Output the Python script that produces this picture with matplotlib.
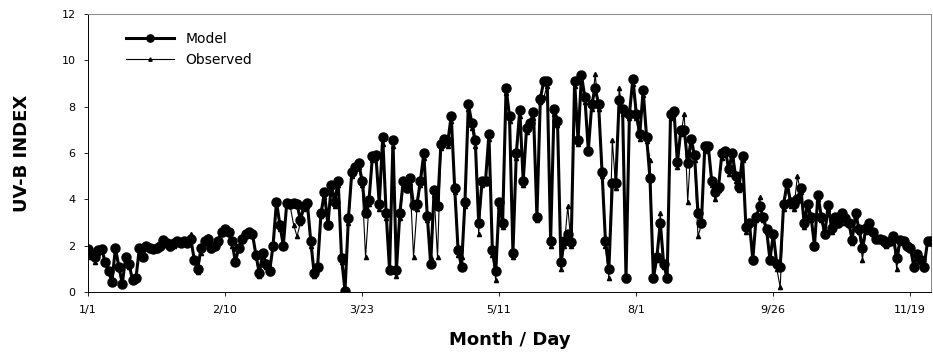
import numpy as np
import matplotlib.pyplot as plt

# model UV-B index left to right
model = [1.85, 1.7, 1.5, 1.8, 1.85, 1.3, 0.9, 0.45, 1.9, 1.1, 0.35, 1.5, 1.2, 0.5, 0.6, 1.9, 1.5, 2.0, 1.9, 1.85,
         1.9, 2.0, 2.25, 2.1, 2.0, 2.1, 2.2, 2.1, 2.2, 2.1, 2.3, 1.4, 1.0, 1.9, 2.2, 2.3, 1.9, 2.0, 2.2, 2.6,
         2.7, 2.6, 2.2, 1.3, 1.9, 2.3, 2.5, 2.6, 2.5, 1.6, 0.8, 1.7, 1.2, 0.9, 2.0, 3.9, 2.9, 2.0, 3.85, 3.8,
         3.85, 3.8, 3.1, 3.7, 3.85, 2.2, 0.8, 1.1, 3.4, 4.3, 2.9, 4.6, 3.9, 4.8, 1.45, 0.05, 3.2, 5.2, 5.4, 5.55,
         4.8, 3.4, 3.96, 5.85,
         5.9, 3.8, 6.7, 3.4, 0.95, 6.55, 0.95, 3.4, 4.8, 4.5, 4.9, 3.75, 3.8, 4.8, 6.0, 3.3, 1.2, 4.4, 3.7, 6.4,
         6.6, 6.5, 7.6, 4.5, 1.8, 1.1, 3.9, 8.1, 7.3, 6.55, 3.0, 4.8, 4.8, 6.8, 1.8, 0.9, 3.9, 3.0, 8.8,
         7.6, 1.7, 6.0, 7.85, 4.8, 7.1, 7.3, 7.75, 3.25, 8.35, 9.1, 9.1, 2.2, 7.9, 7.4, 1.3, 2.2, 2.5, 2.15, 9.1,
         6.55, 9.35, 8.4, 6.1, 8.1, 8.8, 8.1, 5.2, 2.2, 1.0, 4.7, 4.7, 8.3, 7.9, 0.6, 7.7, 9.2, 7.7, 6.8, 8.7,
         6.7, 4.9, 0.6, 1.5, 3.0, 1.2, 0.6, 7.7, 7.8, 5.6, 7.0, 7.0, 5.55, 6.6, 5.9, 3.4, 3.0, 6.3, 6.3, 4.8,
         4.3, 4.55, 6.0, 6.1, 5.3, 6.0, 5.0, 4.55, 5.85, 2.8, 3.0, 1.4, 3.25, 3.7, 3.25, 2.7, 1.4, 2.5, 1.2, 1.1,
         3.8, 4.7,
         3.9, 3.8, 4.0, 4.5, 2.96, 3.8, 3.25, 2.0, 4.2, 3.25, 2.5, 3.75, 2.75, 3.25, 3.0, 3.4, 3.2, 3.0, 2.25, 3.4,
         2.7, 1.9, 2.75, 3.0, 2.6, 2.3, 2.3, 2.25, 2.1, 2.2, 2.4, 1.45, 2.25, 2.2, 2.0, 1.9, 1.1, 1.65, 1.4, 1.1,
         2.2, 2.2]

# observed UV-B index
observed = [1.7, 1.5, 1.3, 1.7, 1.8, 1.2, 1.0, 0.6, 1.8, 1.0, 0.4, 1.4, 1.1, 0.6, 0.7, 1.8, 1.6, 1.9, 1.8, 1.9,
            1.8, 1.9, 2.1, 2.2, 1.9, 2.0, 2.1, 2.2, 2.1, 2.2, 2.5, 1.3, 0.85, 1.7, 2.1, 2.4, 1.8, 2.1, 2.1, 2.5,
            2.6, 2.5, 2.0, 1.4, 1.8, 2.2, 2.4, 2.5, 2.4, 1.5, 0.7, 1.6, 1.1, 0.8, 1.9, 3.8, 2.7, 2.1, 3.8, 3.7,
            2.9, 2.4, 3.0, 3.6, 3.7, 2.0, 0.7, 1.0, 3.3, 4.1, 2.8, 4.5, 3.7, 4.6, 1.3, 0.0, 3.0, 5.0, 5.3, 5.4,
            4.6, 1.5, 3.8, 5.7,
            5.8, 3.6, 6.4, 3.2, 0.9, 6.3, 0.7, 3.2, 4.6, 4.4, 4.7, 1.5, 3.6, 4.6, 5.8, 3.1, 1.5, 4.2, 1.5, 6.2,
            6.5, 6.3, 7.4, 4.3, 1.6, 1.5, 3.7, 7.9, 7.1, 6.3, 2.5, 4.6, 4.7, 6.6, 1.6, 0.5, 3.7, 2.8, 8.6,
            7.4, 1.5, 5.8, 7.6, 4.6, 6.9, 7.2, 7.5, 3.1, 8.2, 8.4, 8.9, 2.0, 7.7, 7.2, 1.0, 2.0, 3.7, 2.0, 8.9,
            6.4, 9.1, 8.2, 6.0, 7.9, 9.4, 7.9, 5.0, 2.0, 0.6, 6.55, 4.5, 8.8, 7.7, 0.5, 7.5, 9.0, 7.5, 6.6, 8.5,
            6.5, 5.7, 0.5, 1.4, 3.4, 1.1, 0.5, 7.5, 7.7, 5.4, 6.8, 7.7, 3.9, 6.4, 5.7, 2.4, 2.9, 6.1, 6.2, 4.6,
            4.0, 4.4, 5.8, 6.0, 5.1, 5.8, 4.8, 4.4, 5.7, 2.6, 2.9, 1.3, 3.1, 4.1, 3.1, 2.6, 1.3, 2.4, 1.0, 0.2,
            3.6, 4.5,
            3.7, 3.6, 5.0, 4.3, 2.8, 3.6, 3.1, 1.9, 4.0, 3.1, 2.4, 3.6, 2.6, 3.1, 2.9, 3.3, 3.0, 2.9, 2.1, 3.3,
            2.6, 1.4, 2.6, 2.9, 2.5, 2.2, 2.2, 2.1, 2.0, 2.1, 2.3, 1.0, 2.1, 2.1, 1.9, 1.8, 1.0, 1.5, 1.3, 1.0,
            2.1, 2.1]

tick_labels = ['1/1', '2/10', '3/23', '5/11', '8/1', '9/26', '11/19']

n = len(model)
x = np.arange(n)

fig = plt.figure(figsize=(9.33, 3.54), dpi=100)
ax = fig.add_axes([88/933, 1 - 292/354, 843/933, 278/354])

ax.plot(x, model, color='black', lw=2.2, marker='o', ms=6.5, label='Model', zorder=3)
ax.plot(x, observed, color='black', lw=0.8, marker='^', ms=3, label='Observed', zorder=4)

ax.set_xlim(0, n - 1)
ax.set_ylim(0, 12)
ax.set_yticks(range(0, 13, 2))
step = (n - 1) * 137.0 / 843
ax.set_xticks([i * step for i in range(len(tick_labels))])
ax.set_xticklabels(tick_labels)
ax.tick_params(axis='both', labelsize=8, length=3, width=0.6, direction='out', pad=6)

for s in ax.spines.values():
    s.set_linewidth(0.7)
for s in ['top', 'right']:
    ax.spines[s].set_color('#888888')

ax.set_ylabel('UV-B INDEX', fontsize=13, fontweight='bold', labelpad=22)
ax.set_xlabel('Month / Day', fontsize=13, fontweight='bold', labelpad=12)

ax.legend(loc='upper left', bbox_to_anchor=(0.03, 0.98), frameon=False, fontsize=10,
          handlelength=3.5, markerscale=0.8)

fig.savefig('out.png', dpi=100)
